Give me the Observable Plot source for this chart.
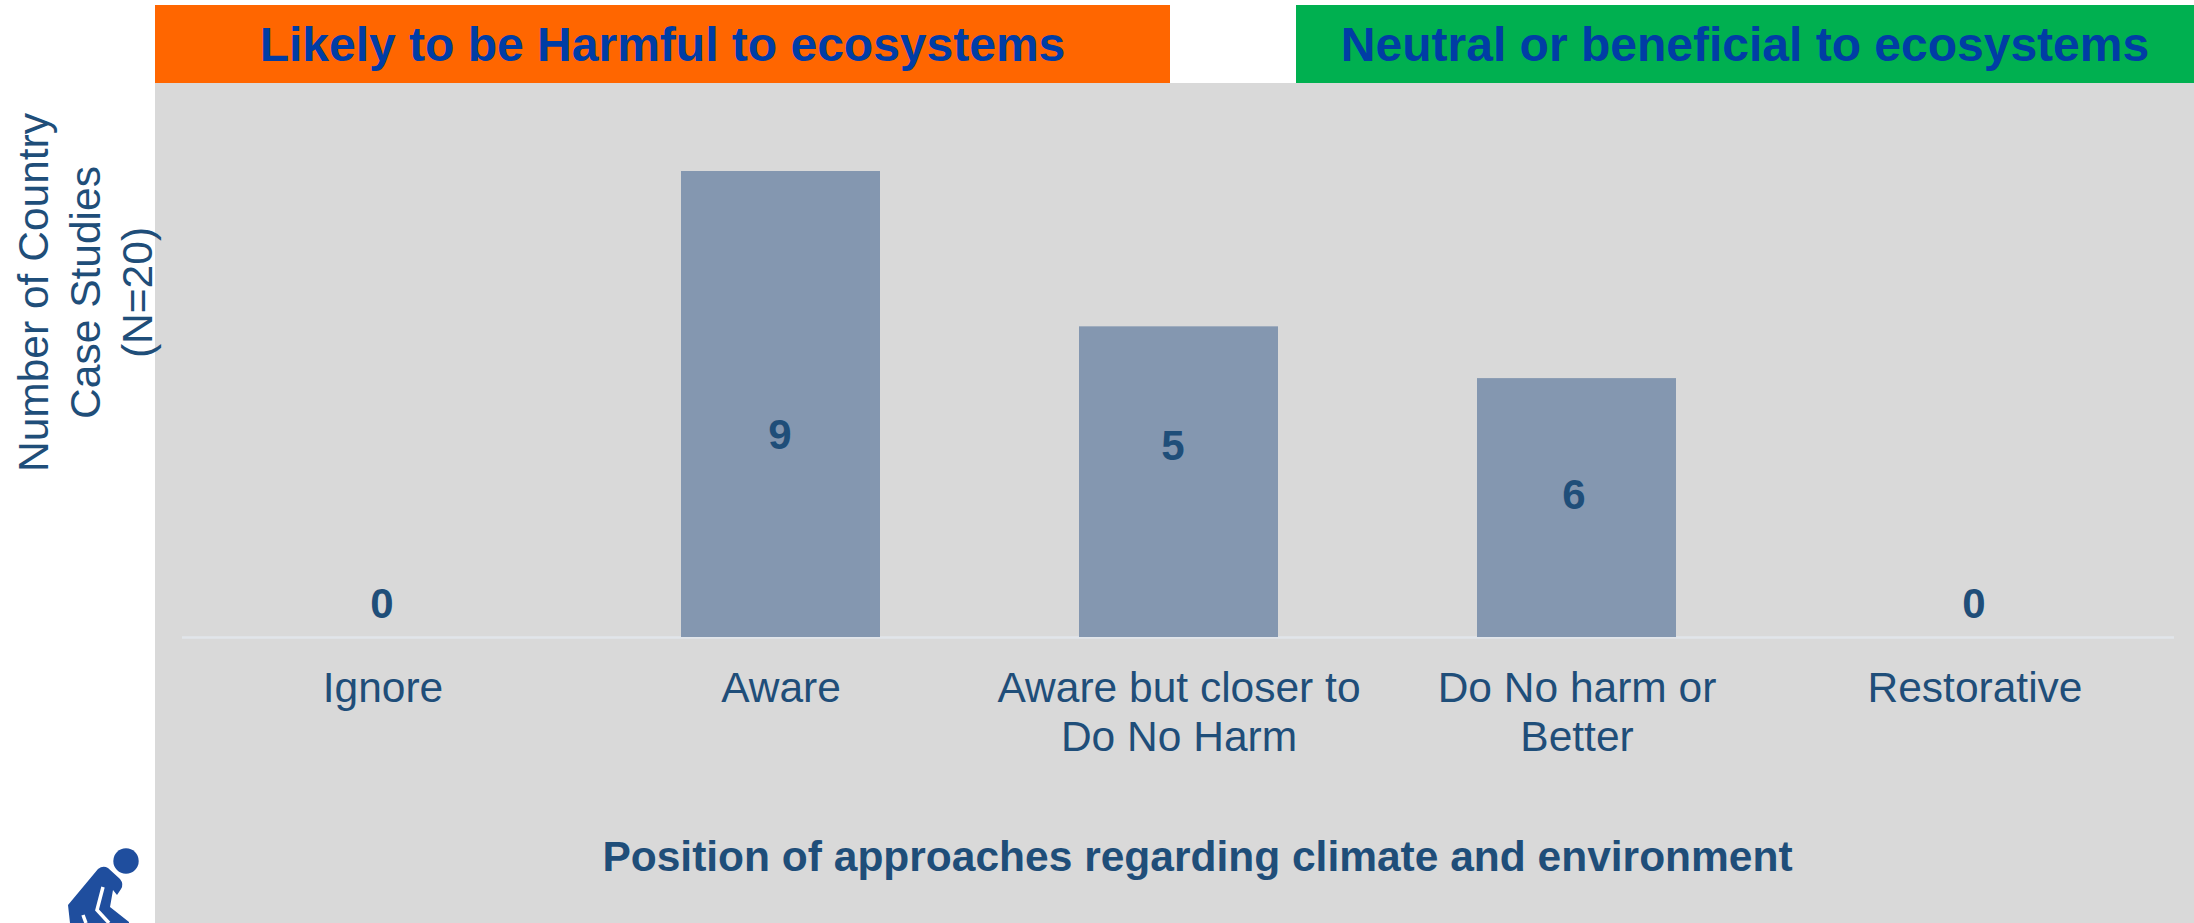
<!DOCTYPE html>
<html>
<head>
<meta charset="utf-8">
<script src="https://cdn.jsdelivr.net/npm/d3@7"></script>
<script src="https://cdn.jsdelivr.net/npm/@observablehq/plot@0.6"></script>
<style>
  html, body { margin: 0; padding: 0; background: #fff; overflow: hidden; }
  #stage { position: relative; width: 2194px; height: 923px; overflow: hidden; font-family: "Liberation Sans", Arial, sans-serif; }
  #panel { position: absolute; left: 155px; top: 83px; width: 2039px; height: 840px; background: #d9d9d9; }
  .band { position: absolute; top: 5px; height: 78px; line-height: 80px; text-align: center; font-weight: bold; font-size: 48px; color: #003da5; white-space: nowrap; }
  #harm { left: 155px; width: 1015px; background: #ff6600; }
  #good { left: 1296px; width: 898px; background: #00b050; }
  #chart { position: absolute; left: 0; top: 0; }
  #chart svg { background: transparent; overflow: visible; }
  #icon { position: absolute; left: 0; top: 0; }
</style>
</head>
<body>
<div id="stage">
  <div id="panel"></div>
  <div class="band" id="harm"></div>
  <div class="band" id="good"></div>
  <svg id="icon" width="155" height="923" viewBox="0 0 155 923">
    <circle cx="126" cy="861" r="12.7" fill="#1f4e9e"></circle>
    <path fill="#1f4e9e" d="M68 905 L98 869 Q103 865 108 868 L120 879 Q124 884 121 889 L117 895 L113 890 L110 907 L129 922 L129 923 L70 923 Z"></path>
    <path fill="none" stroke="#fff" stroke-width="3.5" d="M103 887 L97 910 L109 923"></path>
    <path fill="none" stroke="#fff" stroke-width="3.5" d="M83 915 L86 923"></path>
  </svg>
  <div id="chart"></div>
</div>
<script>
const categories = ["Ignore", "Aware", "Aware but closer to\nDo No Harm", "Do No harm or\nBetter", "Restorative"];
const barHeights = [0, 9, 6, 5, 0];
const valueLabels = ["0", "9", "5", "6", "0"];
const labelLevels = [0.64, 3.9, 3.69, 2.74, 0.64];
const harmfulTitle = "Likely to be Harmful to ecosystems";
const beneficialTitle = "Neutral or beneficial to ecosystems";
const xTitle = "Position of approaches regarding climate and environment";
const yTitle = "Number of Country\nCase Studies\n(N=20)";

const ink = "#1f4e79";
const rows = categories.map((c, i) => ({category: c, height: barHeights[i], label: valueLabels[i], level: labelLevels[i]}));

document.getElementById("harm").textContent = harmfulTitle;
document.getElementById("good").textContent = beneficialTitle;

// The labels "5" and "6" sit slightly left of their bars' centres in the reference.
const labelStyle = {x: "category", y: "level", text: "label", fontSize: 42, fontWeight: "bold", fill: ink};
const chart = Plot.plot({
  width: 2194,
  height: 923,
  marginLeft: 182,
  marginRight: 20,
  marginTop: 171,
  marginBottom: 286,
  style: {background: "transparent", fontFamily: "'Liberation Sans', Arial, sans-serif"},
  x: {domain: categories, paddingInner: 0.5, paddingOuter: 0.25, align: 0.5, label: null},
  y: {domain: [0, 9], axis: null, label: null},
  marks: [
    Plot.ruleY([0], {stroke: "#e1e5ea", strokeWidth: 2.5}),
    Plot.barY(rows, {x: "category", y: "height", fill: "#8497b0"}),
    Plot.axisX({
      tickSize: 0,
      tickPadding: 29,
      fontSize: 42.5,
      lineHeight: 1.16,
      color: ink,
      fill: ink,
      label: null
    }),
    Plot.text(rows.filter(d => d.label === "0" || d.label === "9"), {...labelStyle, dx: -1}),
    Plot.text(rows.filter(d => d.label === "5"), {...labelStyle, dx: -6}),
    Plot.text(rows.filter(d => d.label === "6"), {...labelStyle, dx: -3}),
    Plot.text([xTitle], {frameAnchor: "bottom", lineAnchor: "middle", textAnchor: "middle", dx: 19, dy: 220, fontSize: 42.5, fontWeight: "bold", fill: ink}),
    Plot.text([yTitle], {frameAnchor: "left", lineAnchor: "middle", textAnchor: "middle", rotate: -90, dx: -99, dy: -112, fontSize: 42.5, lineHeight: 1.22, fill: ink})
  ]
});
document.getElementById("chart").appendChild(chart);
</script>
</body>
</html>
